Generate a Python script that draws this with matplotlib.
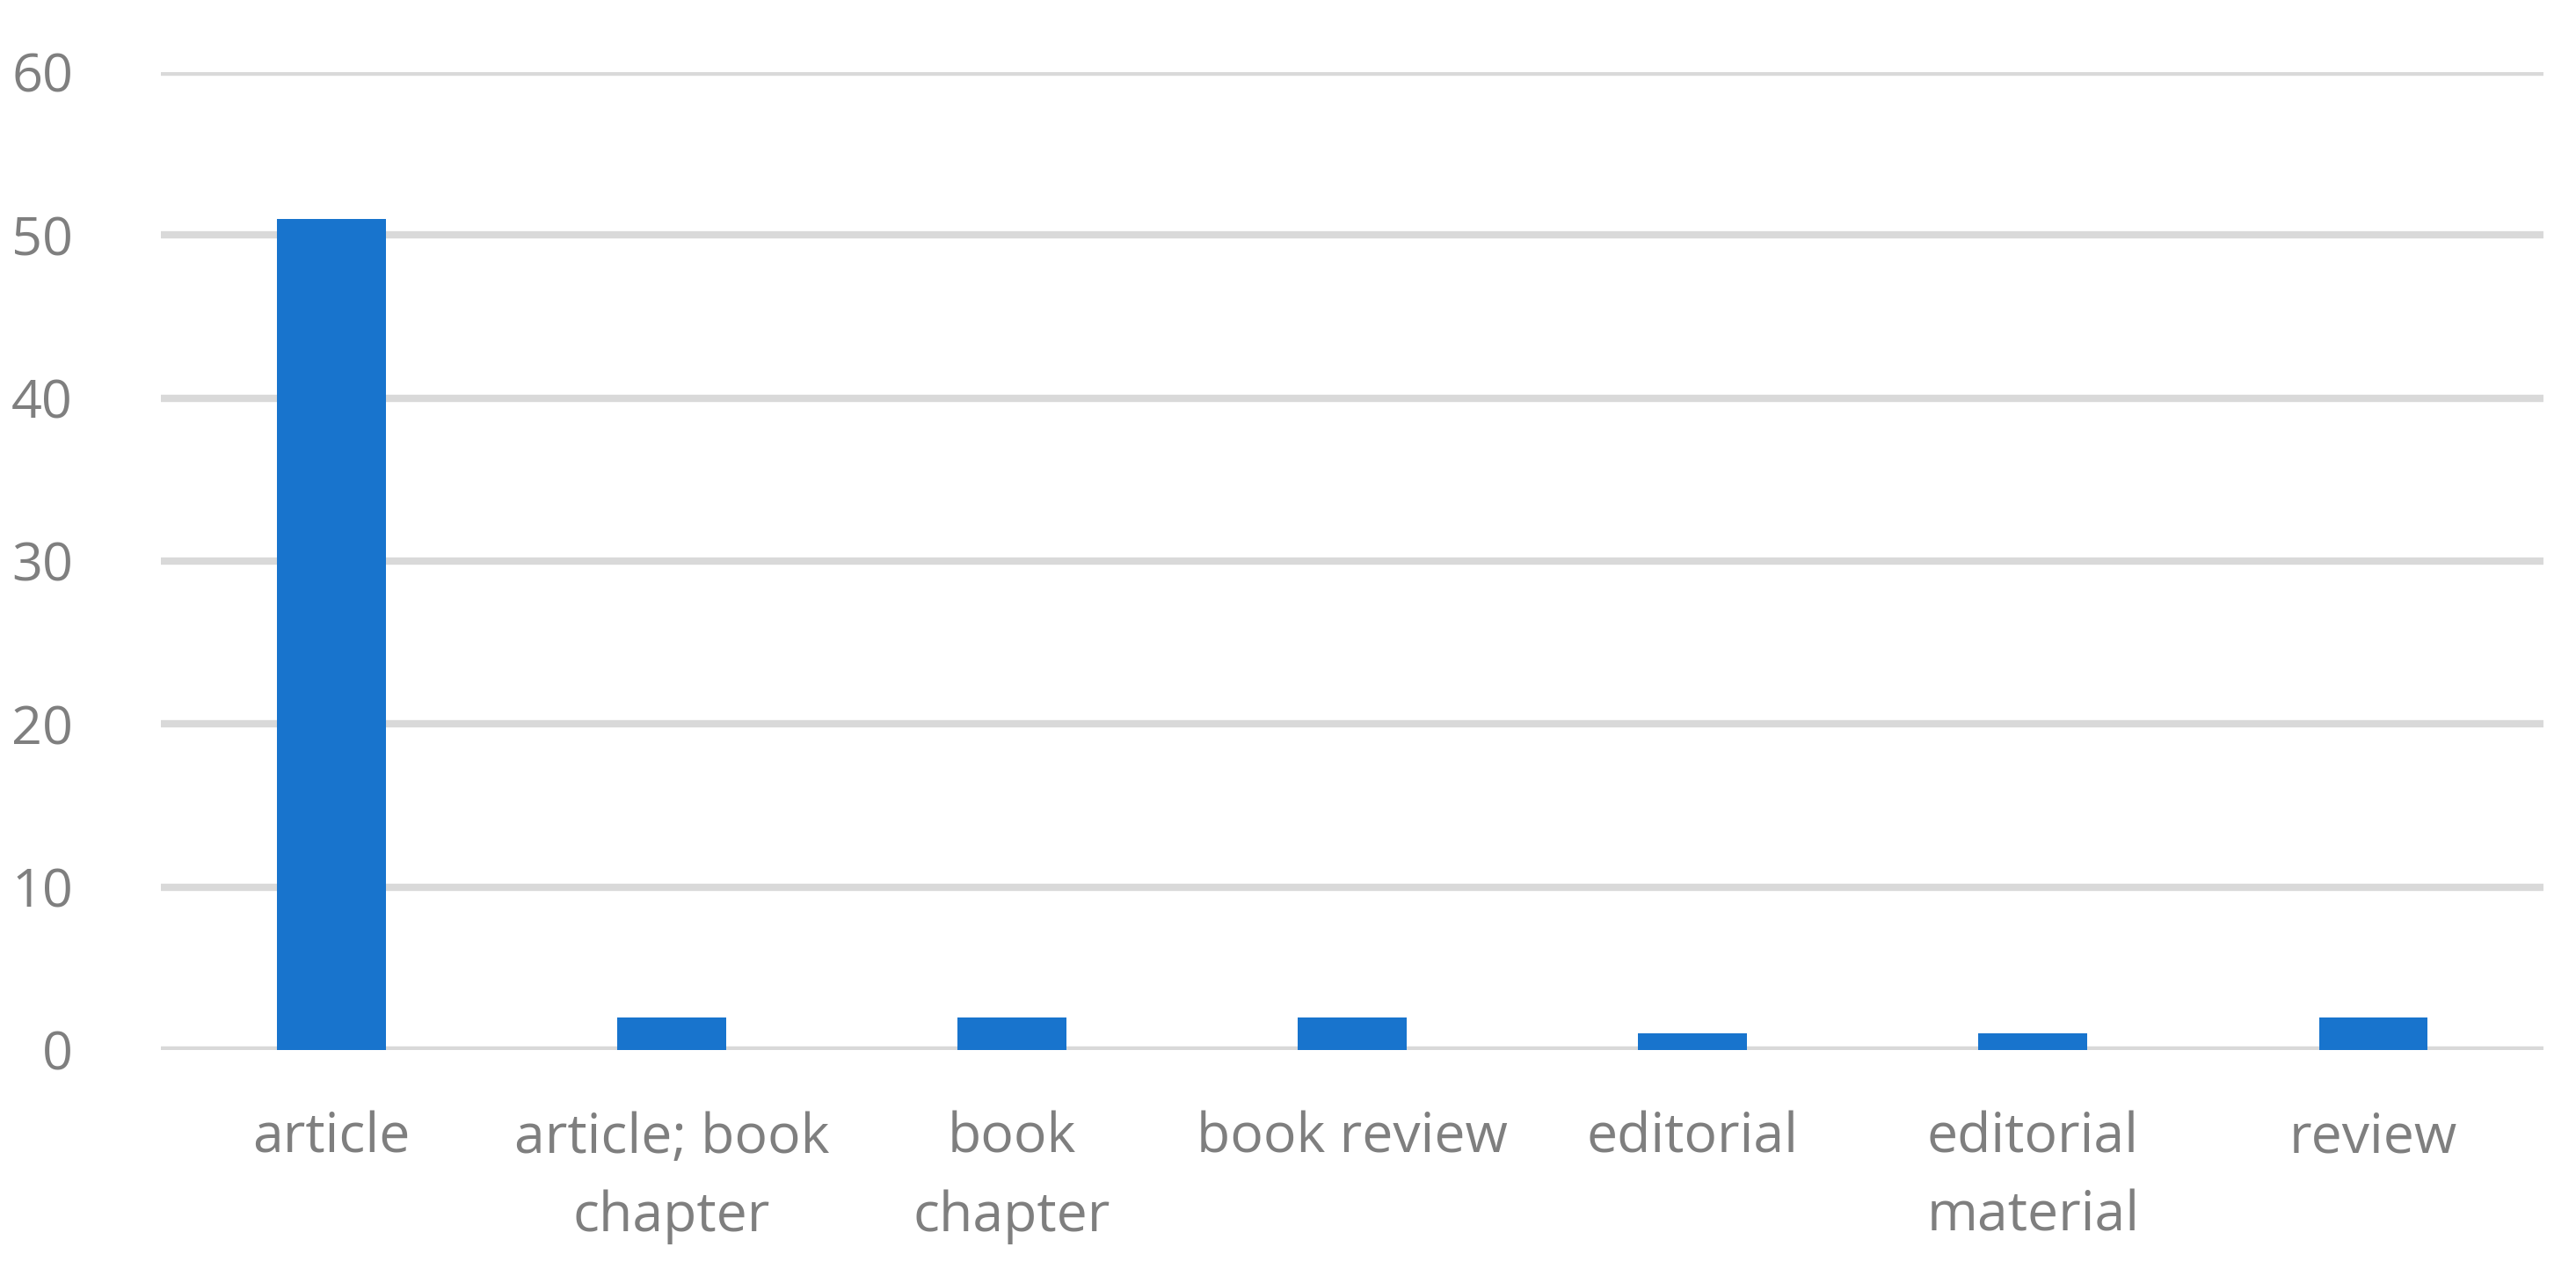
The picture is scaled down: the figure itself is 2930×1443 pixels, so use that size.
import matplotlib
matplotlib.use("Agg")
import matplotlib.pyplot as plt

categories = ["article", "article; book\nchapter", "book\nchapter", "book review",
              "editorial", "editorial\nmaterial", "review"]
counts = [51, 2, 2, 2, 1, 1, 2]
yticks = [0, 10, 20, 30, 40, 50, 60]

plt.rcParams['font.family'] = ['Open Sans', 'DejaVu Sans']
gray_text = '#7f7f7f'

fig = plt.figure(figsize=(14.65, 7.215), dpi=200)
ax = fig.add_axes([0.0625, 0.1726, 0.9249, 0.7706])

x = list(range(len(categories)))
ax.bar(x, counts, width=0.32, color='#1874cd', zorder=3)

ax.set_xlim(-0.5, len(categories) - 0.5)
ax.set_ylim(0, 60)
ax.set_yticks(yticks)
ax.set_xticks(x)
ax.set_xticklabels(categories, fontsize=22.5, color=gray_text, linespacing=1.55)
ax.tick_params(axis='y', labelsize=22, labelcolor=gray_text, length=0, pad=36)
ax.tick_params(axis='x', length=0, pad=25)

ax.grid(axis='y', color='#d9d9d9', linewidth=3.0, zorder=0)
ax.grid(axis='x', visible=False)
for s in ax.spines.values():
    s.set_visible(False)

fig.savefig("out.png", dpi=200)
